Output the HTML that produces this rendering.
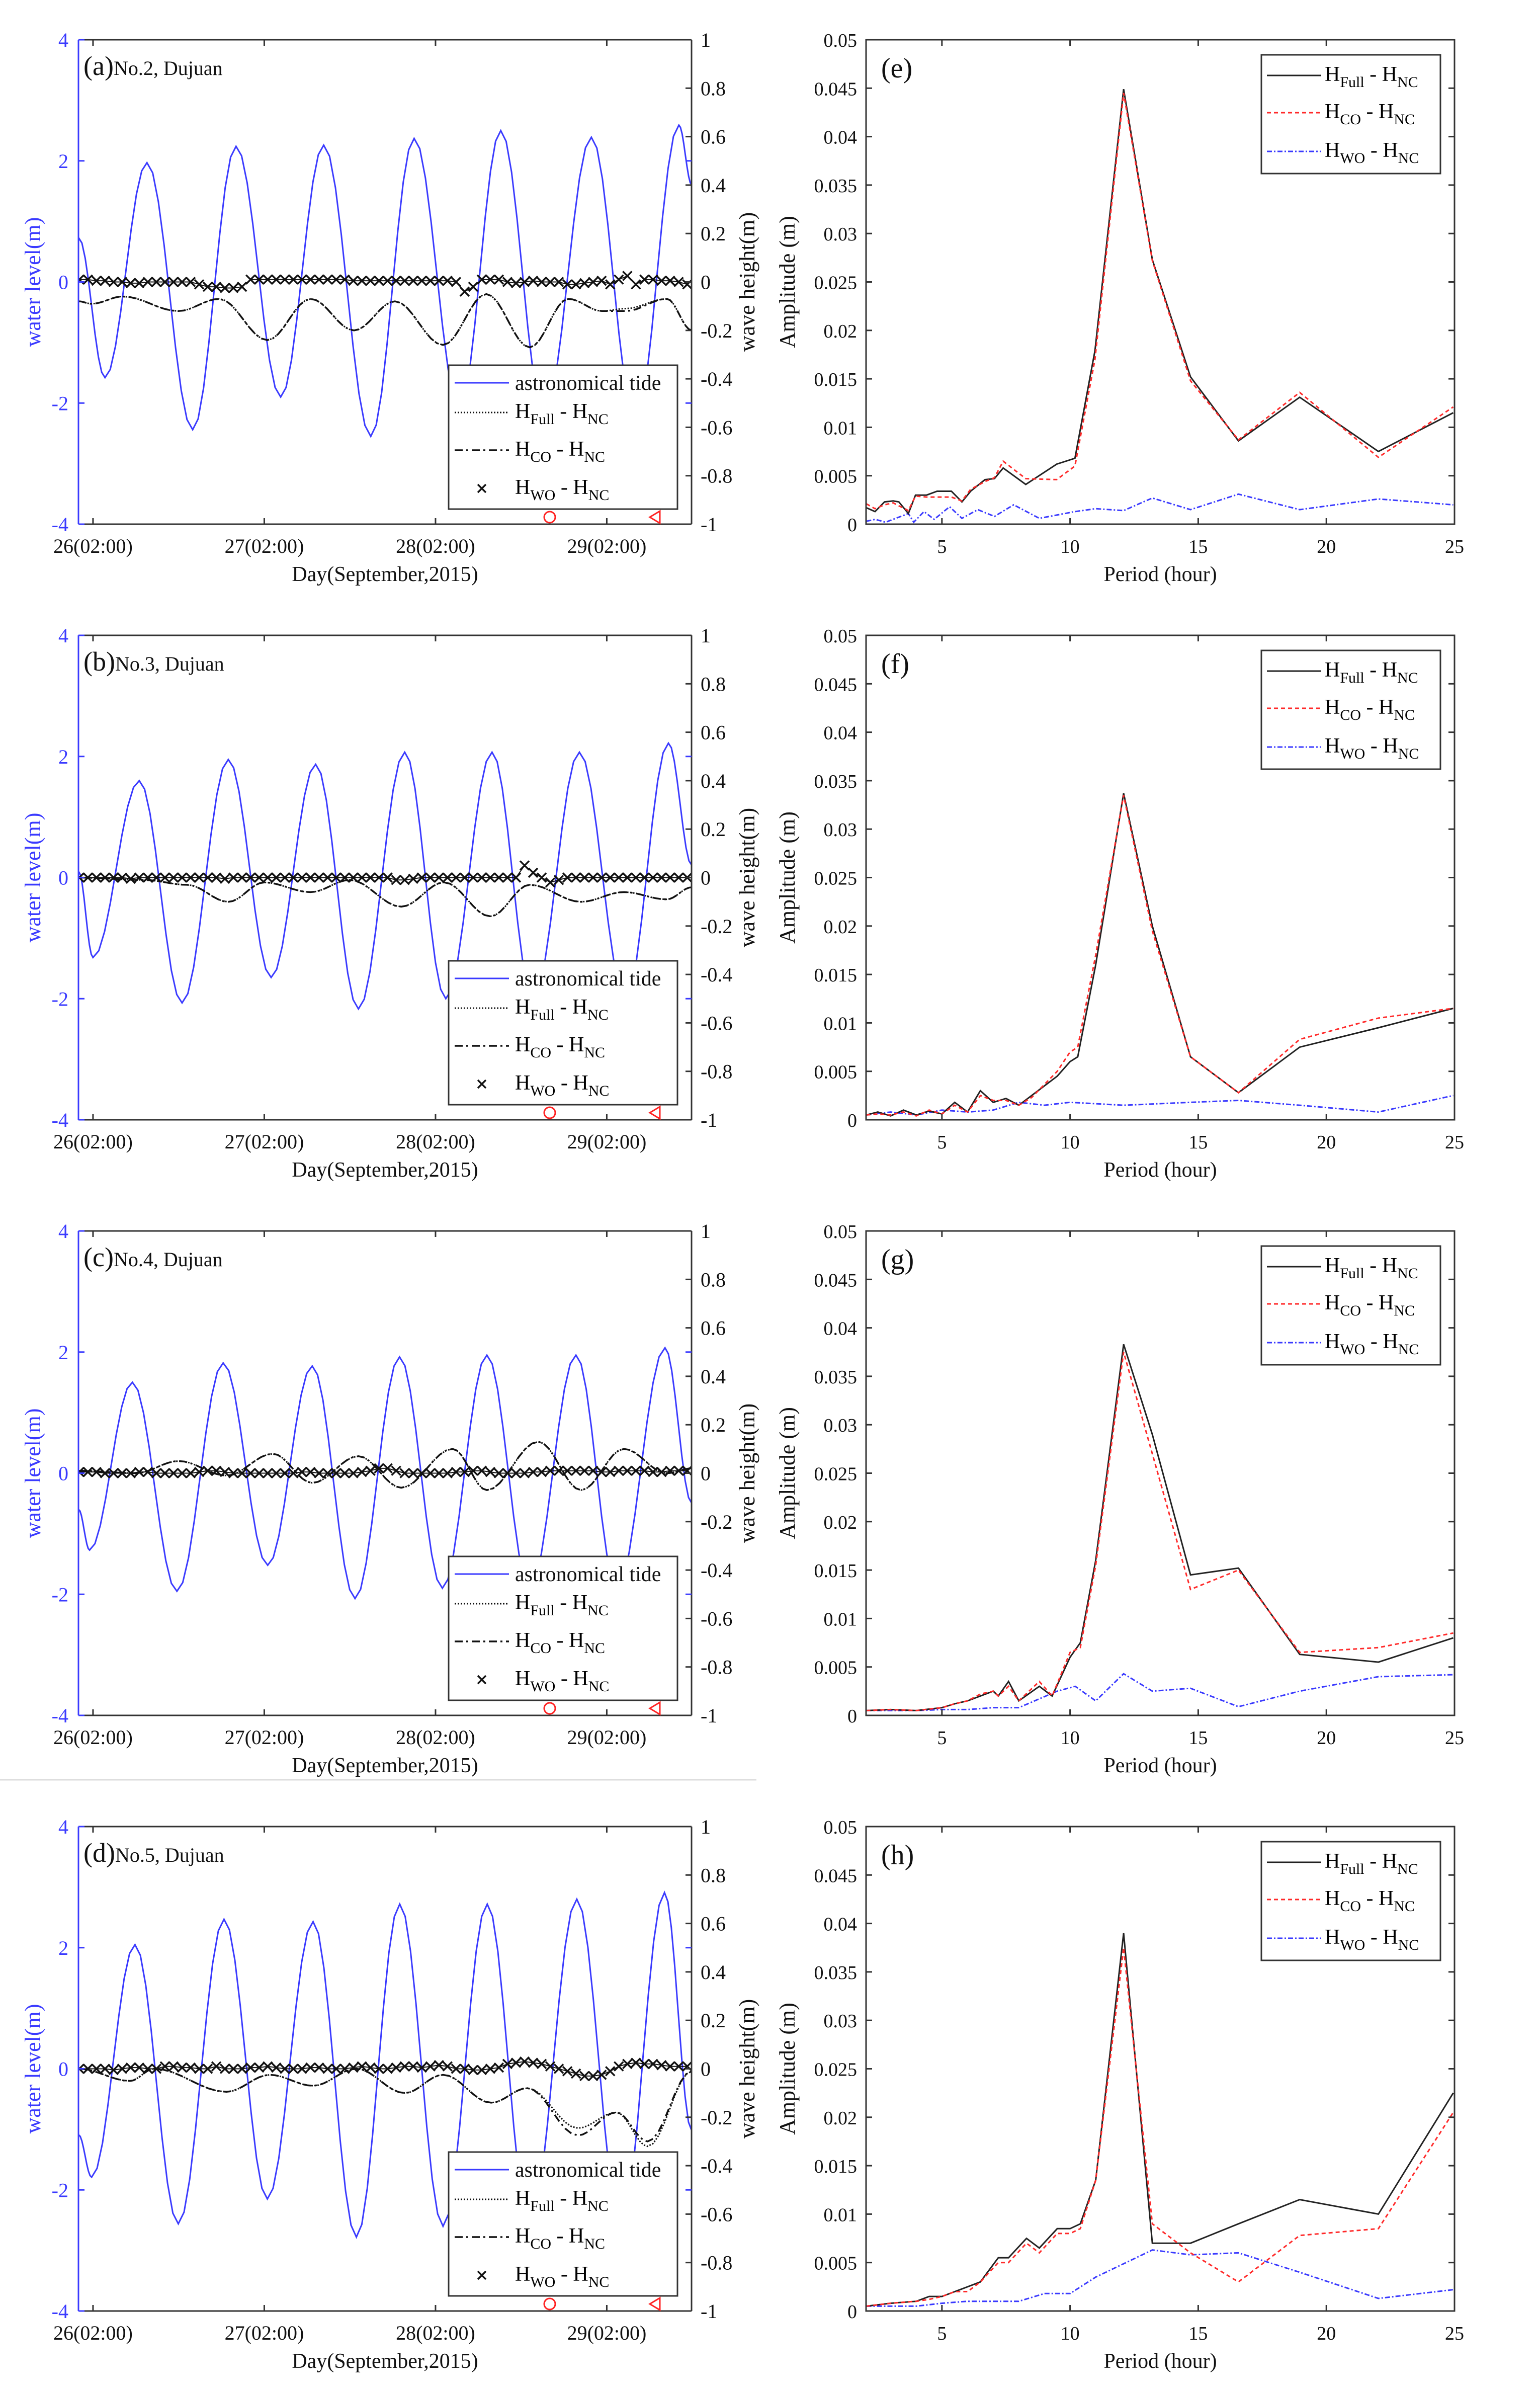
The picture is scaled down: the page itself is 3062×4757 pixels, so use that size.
<!DOCTYPE html>
<html><head><meta charset="utf-8">
<style>
html,body{margin:0;padding:0;background:#fff;}
svg{display:block;}
text{font-family:"Liberation Serif",serif;}
</style></head>
<body>
<svg id="fig" xmlns="http://www.w3.org/2000/svg" width="3062" height="4757" viewBox="0 0 3062 4757">
<rect width="3062" height="4757" fill="#fff"/>
<line x1="0" y1="3538" x2="1504" y2="3538" stroke="#ddd" stroke-width="3"/>
</svg>
<script>
// ---------- DATA ----------
const panelLabels = ["(a)","(b)","(c)","(d)"];
const stationNames = ["No.2, Dujuan","No.3, Dujuan","No.4, Dujuan","No.5, Dujuan"];
const specLabels = ["(e)","(f)","(g)","(h)"];
const dayTicks = [0,1,2,3];
const dayTickLabels = ["26(02:00)","27(02:00)","28(02:00)","29(02:00)"];
const wlTicks = [-4,-2,0,2,4];
const whTicks = [-1,-0.8,-0.6,-0.4,-0.2,0,0.2,0.4,0.6,0.8,1];
const whTickLabels = ["-1","-0.8","-0.6","-0.4","-0.2","0","0.2","0.4","0.6","0.8","1"];
const ampTicks = [0,0.005,0.01,0.015,0.02,0.025,0.03,0.035,0.04,0.045,0.05];
const ampTickLabels = ["0","0.005","0.01","0.015","0.02","0.025","0.03","0.035","0.04","0.045","0.05"];
const periodTicks = [5,10,15,20,25];

// tide extrema (day, m)
const tideDays = [
 [-0.084,0.07,0.315,0.582,0.835,1.096,1.347,1.622,1.875,2.14,2.381,2.634,2.91,3.168,3.421,3.497],
 [-0.084,0.0,0.27,0.52,0.79,1.04,1.30,1.55,1.82,2.06,2.33,2.57,2.84,3.11,3.36,3.497],
 [-0.084,-0.02,0.23,0.49,0.76,1.02,1.28,1.53,1.79,2.04,2.30,2.55,2.82,3.06,3.34,3.497],
 [-0.084,-0.008,0.245,0.498,0.765,1.018,1.285,1.538,1.791,2.044,2.302,2.55,2.825,3.084,3.337,3.497]];
const tideVals = [
 [0.73,-1.58,1.97,-2.44,2.24,-1.9,2.26,-2.55,2.37,-2.1,2.5,-2.2,2.39,-2.3,2.59,1.6],
 [0.1,-1.32,1.6,-2.07,1.95,-1.65,1.87,-2.17,2.07,-2.0,2.07,-2.0,2.07,-2.0,2.22,0.2],
 [-0.6,-1.27,1.5,-1.95,1.82,-1.52,1.77,-2.07,1.92,-1.9,1.95,-1.9,1.95,-1.9,2.07,-0.5],
 [-1.09,-1.79,2.05,-2.56,2.47,-2.15,2.43,-2.78,2.72,-2.6,2.72,-2.6,2.8,-2.6,2.91,-1.03]];

// wave height differences Full / CO (day, m)
const diffDays = [
 [-0.084,-0.008,0.174,0.498,0.737,1.018,1.271,1.524,1.763,2.044,2.297,2.55,2.775,2.972,3.112,3.351,3.497],
 [-0.084,0.3,0.55,0.79,1.0,1.27,1.5,1.8,2.05,2.32,2.55,2.85,3.1,3.35,3.497],
 [-0.084,0.25,0.5,0.78,1.05,1.28,1.55,1.8,2.1,2.3,2.6,2.85,3.1,3.35,3.497],
 [-0.084,0.216,0.357,0.779,1.032,1.285,1.538,1.82,2.044,2.325,2.536,2.831,3.056,3.239,3.497]];
const fullVals = [
 [-0.08,-0.09,-0.06,-0.12,-0.07,-0.24,-0.07,-0.2,-0.08,-0.26,-0.05,-0.27,-0.07,-0.12,-0.11,-0.07,-0.2],
 [0,-0.01,-0.03,-0.1,-0.02,-0.06,-0.01,-0.12,-0.02,-0.16,-0.03,-0.1,-0.06,-0.09,-0.04],
 [0.01,0.0,0.05,-0.01,0.08,-0.04,0.07,-0.06,0.1,-0.07,0.13,-0.07,0.1,0.0,0.02],
 [0,-0.05,0,-0.095,-0.025,-0.07,0,-0.1,-0.025,-0.14,-0.08,-0.245,-0.18,-0.32,-0.01]];
const coVals = [
 [-0.08,-0.09,-0.06,-0.12,-0.07,-0.24,-0.07,-0.2,-0.08,-0.26,-0.05,-0.27,-0.07,-0.12,-0.12,-0.07,-0.2],
 [0,-0.01,-0.03,-0.1,-0.02,-0.06,-0.01,-0.12,-0.02,-0.16,-0.03,-0.1,-0.06,-0.09,-0.04],
 [0.01,0.0,0.05,-0.01,0.08,-0.04,0.07,-0.06,0.1,-0.07,0.13,-0.07,0.1,0.0,0.02],
 [0,-0.05,0,-0.095,-0.025,-0.07,0,-0.1,-0.025,-0.14,-0.08,-0.275,-0.18,-0.3,-0.01]];
// WO differences sampled every 0.05 day starting at -0.08
const woStart = -0.08, woStep = 0.05;
const woVals = [
 [0.01,0.01,0.005,0.005,0,0,-0.005,-0.005,0,0,0,0,0,0,-0.01,-0.02,-0.02,-0.025,-0.025,-0.02,0.01,0.01,0.01,0.01,0.01,0.01,0.01,0.01,0.01,0.01,0.01,0.01,0.005,0.005,0.005,0.005,0.005,0.005,0.005,0.005,0.005,0.005,0.005,0.005,0,-0.04,-0.02,0.01,0.01,0.01,0,-0.005,0,0.005,0,0,0,-0.01,-0.01,-0.005,0,0.005,-0.01,0.01,0.025,-0.01,0.01,0.01,0.005,0.005,0,-0.01],
 [0,0,0,0,0,0,-0.005,0,0,0,0,0,0,0,0,0,0,-0.005,0,0,0,0,0,0,0,0,0,0,0,0,0,0,0,0,0,0,0,-0.01,-0.01,-0.005,0,0,0,0,0,0,0,0,0,0,0,0,0.05,0.02,0,-0.02,-0.01,0,0,0,0,0,0,0,0,0,0,0,0,0,0,0],
 [0.005,0.005,0.005,0,0,0,0,0.005,0.005,0,0,0,0,0,0.005,0.01,0.01,0.005,0,0,0,0,0,0,0,0,0.005,0.005,0,0,0,0,0,0.005,0.01,0.02,0.02,0.01,0,0,0,0,0,0,0.005,0.005,0.01,0.01,0.005,0,0,0,0,0.005,0.005,0.01,0.01,0.01,0.01,0.01,0.01,0.005,0.005,0.01,0.01,0.01,0.01,0.005,0.005,0.01,0.01,0.01],
 [0,0,0,0,-0.005,0,0.005,0.005,0,0,0.01,0.01,0.005,0.005,0,0,0.01,0,0,0,0.005,0.005,0.01,0.005,0,0,0,0.005,0.005,0,0,0,0.005,0.01,0.005,0,0,0.005,0.01,0.01,0.005,0.01,0.015,0.01,0,0,-0.005,-0.005,0,0.005,0.02,0.025,0.03,0.025,0.02,0.01,0,-0.01,-0.02,-0.03,-0.03,-0.025,-0.01,0.01,0.02,0.025,0.02,0.02,0.015,0.01,0.01,0.01]];

// spectra (period hour, amplitude m)
const specPeriods = [
 [2.05,2.39,2.76,3.1,3.32,3.69,3.97,4.4,4.81,5.37,5.78,6.12,6.68,7.05,7.39,8.27,9.48,10.19,10.97,12.09,13.21,14.7,16.57,18.96,22.03,24.95],
 [2.05,2.5,3.0,3.5,4.0,4.5,5.0,5.5,6.0,6.5,7.0,7.5,8.0,8.5,9.5,10.0,10.3,11.0,12.09,13.21,14.7,16.57,18.96,22.03,24.95],
 [2.05,3.0,4.0,5.0,5.5,6.0,6.5,7.0,7.2,7.6,8.0,8.8,9.3,10.0,10.4,11.0,12.09,13.21,14.7,16.57,18.96,22.03,24.95],
 [2.05,3.0,4.0,4.5,5.0,5.5,6.0,6.5,7.2,7.6,8.3,8.8,9.5,10.0,10.4,11.0,12.09,13.21,14.7,16.57,18.96,22.03,24.95]];
const specFull = [
 [0.0017,0.0013,0.0023,0.0024,0.0023,0.0011,0.003,0.003,0.0034,0.0034,0.0023,0.0034,0.0046,0.0047,0.0058,0.0041,0.0062,0.0068,0.0179,0.0449,0.0273,0.0152,0.0086,0.0131,0.0075,0.0115],
 [0.0005,0.0008,0.0004,0.001,0.0005,0.0009,0.0006,0.0018,0.0008,0.003,0.0018,0.0022,0.0015,0.0025,0.0045,0.006,0.0065,0.016,0.0337,0.02,0.0065,0.0028,0.0075,0.0095,0.0115],
 [0.0005,0.0006,0.0005,0.0008,0.0012,0.0015,0.002,0.0025,0.002,0.0035,0.0015,0.003,0.002,0.006,0.0075,0.016,0.0383,0.029,0.0145,0.0152,0.0063,0.0055,0.008],
 [0.0005,0.0008,0.001,0.0015,0.0015,0.002,0.0025,0.003,0.0055,0.0055,0.0075,0.0065,0.0085,0.0085,0.009,0.0135,0.039,0.007,0.007,0.009,0.0115,0.01,0.0225]];
const specCO = [
 [0.0021,0.0016,0.002,0.0022,0.0019,0.0014,0.0029,0.0028,0.0028,0.0028,0.0024,0.0036,0.0044,0.0048,0.0065,0.0047,0.0046,0.006,0.017,0.0445,0.0272,0.0148,0.0087,0.0136,0.0069,0.0121],
 [0.0005,0.0006,0.0005,0.0008,0.0004,0.001,0.0006,0.0015,0.0008,0.0025,0.002,0.002,0.0015,0.0023,0.005,0.007,0.0075,0.017,0.0335,0.0195,0.0065,0.0028,0.0083,0.0105,0.0115],
 [0.0005,0.0006,0.0005,0.0008,0.0012,0.0015,0.0022,0.0025,0.002,0.003,0.0015,0.0035,0.002,0.0065,0.007,0.0155,0.0375,0.027,0.013,0.015,0.0065,0.007,0.0085],
 [0.0005,0.0008,0.001,0.0012,0.0015,0.002,0.002,0.003,0.005,0.005,0.007,0.006,0.008,0.008,0.0085,0.0135,0.0375,0.009,0.006,0.003,0.0078,0.0085,0.0205]];
const woPeriods = [
 [2.05,2.4,2.8,3.2,3.69,3.9,4.3,4.7,5.3,5.78,6.4,7.05,7.8,8.8,10.19,11.0,12.09,13.21,14.7,16.57,18.96,22.03,24.95],
 [2.05,3.0,4.0,5.0,6.0,7.0,8.0,9.0,10.0,12.09,14.7,16.57,18.96,22.03,24.95],
 [2.05,3.0,4.0,5.0,6.0,7.0,8.0,9.5,10.2,11.0,12.09,13.21,14.7,16.57,18.96,22.03,24.95],
 [2.05,3.0,4.0,5.0,6.0,7.0,8.0,9.0,10.0,11.0,13.21,14.7,16.57,18.96,22.03,24.95]];
const woAmp = [
 [0.0003,0.0005,0.0002,0.0006,0.0011,0.0002,0.0013,0.0005,0.0018,0.0006,0.0015,0.0008,0.002,0.0006,0.0013,0.0016,0.0014,0.0027,0.0015,0.0031,0.0015,0.0026,0.002],
 [0.0005,0.0008,0.0005,0.001,0.0008,0.001,0.0018,0.0015,0.0018,0.0015,0.0018,0.002,0.0015,0.0008,0.0025],
 [0.0005,0.0005,0.0005,0.0006,0.0006,0.0008,0.0008,0.0025,0.003,0.0015,0.0043,0.0025,0.0028,0.0009,0.0025,0.004,0.0042],
 [0.0005,0.0005,0.0005,0.0008,0.001,0.001,0.001,0.0018,0.0018,0.0035,0.0063,0.0058,0.006,0.004,0.0013,0.0022]];

// ---------- DRAWING ----------
const NS = "http://www.w3.org/2000/svg";
const svg = document.getElementById("fig");
function mk(tag, attrs, parent){
  const e = document.createElementNS(NS, tag);
  for (const k in attrs) e.setAttribute(k, attrs[k]);
  (parent||svg).appendChild(e);
  return e;
}
const tops = [79,1263,2447,3631];
const PH = 963;
const LX0 = 156, LX1 = 1375, D0 = -0.085, D1 = 3.495;
const RX0 = 1722, RX1 = 2892, P0 = 2.04, P1 = 25;
const BLUE = "#3a3aff";
function dayX(d){ return LX0 + (d - D0) / (D1 - D0) * (LX1 - LX0); }
function periodX(h){ return RX0 + (h - P0) / (P1 - P0) * (RX1 - RX0); }

function smoothPath(xs, ys, xf, yf){
  // cosine easing between consecutive data points
  let s = "";
  for (let i = 0; i < xs.length; i++){
    if (i === 0){ s += "M" + xf(xs[0]).toFixed(1) + "," + yf(ys[0]).toFixed(1); continue; }
    const n = 8;
    for (let k = 1; k <= n; k++){
      const t = k / n, e = (1 - Math.cos(Math.PI * t)) / 2;
      const x = xs[i-1] + (xs[i] - xs[i-1]) * t;
      const y = ys[i-1] + (ys[i] - ys[i-1]) * e;
      s += " L" + xf(x).toFixed(1) + "," + yf(y).toFixed(1);
    }
  }
  return s;
}
function linePath(xs, ys, xf, yf){
  return xs.map((x, i) => (i ? "L" : "M") + xf(x).toFixed(1) + "," + yf(ys[i]).toFixed(1)).join(" ");
}
function legendText(g, x, y, sub1, main1, sub2){
  const t = mk("text", {x:x, y:y, "font-size":42, fill:"#000"}, g);
  
  
  t.innerHTML = 'H<tspan font-size="30" dy="12">' + sub1 + '</tspan><tspan dy="-12"> - H</tspan><tspan font-size="30" dy="12">NC</tspan>';
  return t;
}

for (let p = 0; p < 4; p++){
  const T = tops[p], B = T + PH;
  const wlY = v => B - (v + 4) / 8 * PH;
  const whY = v => B - (v + 1) / 2 * PH;
  const ampY = v => B - v / 0.05 * PH;

  // ===== LEFT PANEL =====
  const gl = mk("g", {});
  
  
  mk("clipPath", {id:"cl"+p}, gl).appendChild(Object.assign(document.createElementNS(NS,"rect"),{}));
  const cr = gl.querySelector("clipPath rect");
  cr.setAttribute("x", LX0); cr.setAttribute("y", T); cr.setAttribute("width", LX1-LX0); cr.setAttribute("height", PH);
  const plot = mk("g", {"clip-path":"url(#cl"+p+")"}, gl);

  const tide = mk("path", {d: smoothPath(tideDays[p], tideVals[p], dayX, wlY), fill:"none", stroke:BLUE, "stroke-width":3}, plot);
  
  
  const fl = mk("path", {d: smoothPath(diffDays[p], fullVals[p], dayX, whY), fill:"none", stroke:"#111", "stroke-width":3, "stroke-dasharray":"3 3"}, plot);
  
  
  const cl = mk("path", {d: smoothPath(diffDays[p], coVals[p], dayX, whY), fill:"none", stroke:"#111", "stroke-width":3.5, "stroke-dasharray":"16 7 4 7"}, plot);
  
  
  const woX = woVals[p].map((v, i) => woStart + i * woStep);
  const wl = mk("path", {d: linePath(woX, woVals[p], dayX, whY), fill:"none", stroke:"#111", "stroke-width":2}, plot);
  
  
  woVals[p].forEach((v, i) => {
    const x = dayX(woX[i]), y = whY(v), r = 9;
    const m = mk("path", {d:`M${x-r},${y-r}L${x+r},${y+r}M${x-r},${y+r}L${x+r},${y-r}`, stroke:"#111", "stroke-width":3.5}, plot);
    
    
  });

  // axes frame
  mk("line", {x1:LX0, y1:T, x2:LX1, y2:T, stroke:"#333", "stroke-width":3}, gl);
  mk("line", {x1:LX0, y1:B, x2:LX1, y2:B, stroke:"#333", "stroke-width":3}, gl);
  mk("line", {x1:LX1, y1:T, x2:LX1, y2:B, stroke:"#333", "stroke-width":3}, gl);
  mk("line", {x1:LX0, y1:T, x2:LX0, y2:B, stroke:BLUE, "stroke-width":3}, gl);
  // left ticks (water level)
  wlTicks.forEach(v => {
    const y = wlY(v);
    mk("line", {x1:LX0, y1:y, x2:LX0+12, y2:y, stroke:BLUE, "stroke-width":3}, gl);
    mk("line", {x1:LX1, y1:y, x2:LX1-12, y2:y, stroke:BLUE, "stroke-width":3}, gl);
    const t = mk("text", {x:LX0-20, y:y+14, "text-anchor":"end", "font-size":40, fill:BLUE}, gl);
    
    
    t.textContent = v;
  });
  whTicks.forEach((v, i) => {
    const y = whY(v);
    mk("line", {x1:LX1, y1:y, x2:LX1-12, y2:y, stroke:"#333", "stroke-width":3}, gl);
    const t = mk("text", {x:LX1+18, y:y+14, "font-size":40, fill:"#111"}, gl);
    
    
    t.textContent = whTickLabels[i];
  });
  dayTicks.forEach((d, i) => {
    const x = dayX(d);
    mk("line", {x1:x, y1:B, x2:x, y2:B-12, stroke:"#333", "stroke-width":3}, gl);
    mk("line", {x1:x, y1:T, x2:x, y2:T+12, stroke:"#333", "stroke-width":3}, gl);
    const t = mk("text", {x:x, y:B+57, "text-anchor":"middle", "font-size":40, fill:"#111"}, gl);
    
    
    t.textContent = dayTickLabels[i];
  });
  // red markers
  const rc = mk("circle", {cx:1093, cy:B-14, r:11, fill:"none", stroke:"#f22", "stroke-width":3}, gl);
  
  
  const rt = mk("path", {d:`M1292,${B-14} L1312,${B-26} L1312,${B-2} Z`, fill:"none", stroke:"#f22", "stroke-width":3}, gl);
  
  

  const xt = mk("text", {x:(LX0+LX1)/2, y:B+113, "text-anchor":"middle", "font-size":42, fill:"#111"}, gl);
  
  
  xt.textContent = "Day(September,2015)";
  const yt = mk("text", {x:0, y:0, transform:`translate(80,${T+PH/2}) rotate(-90)`, "text-anchor":"middle", "font-size":44, fill:BLUE}, gl);
  
  
  yt.textContent = "water level(m)";
  const yt2 = mk("text", {x:0, y:0, transform:`translate(1500,${T+PH/2}) rotate(-90)`, "text-anchor":"middle", "font-size":44, fill:"#111"}, gl);
  
  
  yt2.textContent = "wave height(m)";
  const pl = mk("text", {x:166, y:T+70, "font-size":54, fill:"#111", "font-family":"Liberation Sans, sans-serif"}, gl);
  
  
  pl.innerHTML = panelLabels[p] + '<tspan font-family="Liberation Serif, serif" font-size="40">' + stationNames[p] + '</tspan>';

  // legend
  const lg = mk("g", {});
  
  
  mk("rect", {x:892, y:T+647, width:455, height:286, fill:"#fff", stroke:"#333", "stroke-width":3}, lg);
  mk("line", {x1:904, y1:T+682, x2:1012, y2:T+682, stroke:BLUE, "stroke-width":3}, lg);
  const at = mk("text", {x:1024, y:T+696, "font-size":42, fill:"#111"}, lg);
  
  
  at.textContent = "astronomical tide";
  mk("line", {x1:904, y1:T+741, x2:1012, y2:T+741, stroke:"#111", "stroke-width":3, "stroke-dasharray":"3 3"}, lg);
  legendText(lg, 1024, T+752, "Full");
  mk("line", {x1:904, y1:T+816, x2:1012, y2:T+816, stroke:"#111", "stroke-width":3.5, "stroke-dasharray":"16 7 4 7"}, lg);
  legendText(lg, 1024, T+827, "CO");
  const lx = 958, ly = T+892;
  mk("path", {d:`M${lx-8},${ly-8}L${lx+8},${ly+8}M${lx-8},${ly+8}L${lx+8},${ly-8}`, stroke:"#111", "stroke-width":3.5}, lg);
  legendText(lg, 1024, T+903, "WO");

  // ===== RIGHT PANEL =====
  const gr = mk("g", {});
  
  
  const rplot = mk("g", {}, gr);
  const sw = mk("path", {d: linePath(woPeriods[p], woAmp[p], periodX, ampY), fill:"none", stroke:"#3a3aff", "stroke-width":3, "stroke-dasharray":"10 4 3 4"}, rplot);
  
  
  const sf = mk("path", {d: linePath(specPeriods[p], specFull[p], periodX, ampY), fill:"none", stroke:"#222", "stroke-width":3}, rplot);
  
  
  const sc = mk("path", {d: linePath(specPeriods[p], specCO[p], periodX, ampY), fill:"none", stroke:"#ff2a2a", "stroke-width":3, "stroke-dasharray":"8 6"}, rplot);
  
  

  mk("rect", {x:RX0, y:T, width:RX1-RX0, height:PH, fill:"none", stroke:"#333", "stroke-width":3}, gr);
  ampTicks.forEach((v, i) => {
    const y = ampY(v);
    mk("line", {x1:RX0, y1:y, x2:RX0+12, y2:y, stroke:"#333", "stroke-width":3}, gr);
    mk("line", {x1:RX1, y1:y, x2:RX1-12, y2:y, stroke:"#333", "stroke-width":3}, gr);
    const t = mk("text", {x:RX0-18, y:y+14, "text-anchor":"end", "font-size":40, fill:"#111", "font-family":"Liberation Sans, sans-serif", "font-size":38}, gr);
    
    
    t.textContent = ampTickLabels[i];
  });
  periodTicks.forEach(h => {
    const x = periodX(h);
    mk("line", {x1:x, y1:B, x2:x, y2:B-12, stroke:"#333", "stroke-width":3}, gr);
    mk("line", {x1:x, y1:T, x2:x, y2:T+12, stroke:"#333", "stroke-width":3}, gr);
    const t = mk("text", {x:x, y:B+57, "text-anchor":"middle", "font-size":38, fill:"#111", "font-family":"Liberation Sans, sans-serif"}, gr);
    
    
    t.textContent = h;
  });
  const px = mk("text", {x:(RX0+RX1)/2, y:B+113, "text-anchor":"middle", "font-size":42, fill:"#111"}, gr);
  
  
  px.textContent = "Period (hour)";
  const py = mk("text", {x:0, y:0, transform:`translate(1580,${T+PH/2}) rotate(-90)`, "text-anchor":"middle", "font-size":44, fill:"#111"}, gr);
  
  
  py.textContent = "Amplitude (m)";
  const sl = mk("text", {x:1752, y:T+75, "font-size":56, fill:"#111", "font-family":"Liberation Sans, sans-serif"}, gr);
  
  
  sl.textContent = specLabels[p];

  const rl = mk("g", {}, gr);
  
  
  mk("rect", {x:2508, y:T+30, width:356, height:236, fill:"#fff", stroke:"#333", "stroke-width":3}, rl);
  mk("line", {x1:2519, y1:T+71, x2:2627, y2:T+71, stroke:"#222", "stroke-width":3}, rl);
  legendText(rl, 2634, T+82, "Full");
  mk("line", {x1:2519, y1:T+145, x2:2627, y2:T+145, stroke:"#ff2a2a", "stroke-width":3, "stroke-dasharray":"8 6"}, rl);
  legendText(rl, 2634, T+156, "CO");
  mk("line", {x1:2519, y1:T+222, x2:2627, y2:T+222, stroke:"#3a3aff", "stroke-width":3, "stroke-dasharray":"10 4 3 4"}, rl);
  legendText(rl, 2634, T+233, "WO");
}
</script>
</body></html>
